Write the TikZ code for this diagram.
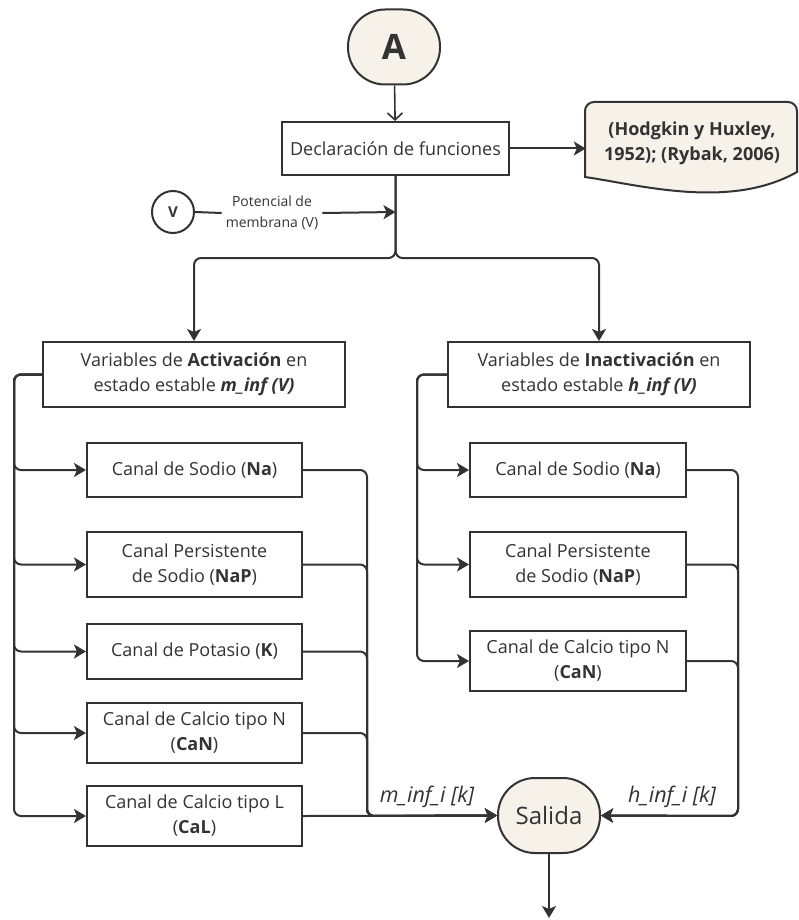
\documentclass[tikz,border=0pt]{standalone}
\usepackage{fontspec}
\setmainfont{Open Sans}
\usetikzlibrary{arrows.meta,calc}
\definecolor{ink}{HTML}{333333}
\definecolor{cream}{HTML}{F6F2EA}
\begin{document}
\begin{tikzpicture}[x=1pt,y=-1pt,
  every node/.style={text=ink, font=\fontsize{18}{25}\selectfont, align=center, inner sep=0pt},
  box/.style={draw=ink, line width=2pt, fill=white},
  pill/.style={draw=ink, line width=2pt, fill=cream, rounded corners=37pt},
  link/.style={draw=ink, line width=2pt, rounded corners=7pt},
  arr/.style={link, -{Stealth[length=12pt,width=14pt,inset=3pt]}},
  openarr/.style={draw=ink, line width=1.6pt, -{Straight Barb[length=7pt,width=15pt]}},
  lbl/.style={font=\fontsize{21.5}{24}\selectfont\itshape},
  ]
\useasboundingbox (0,0) rectangle (798,920);

% start connector and function block
\node[pill, minimum width=92pt, minimum height=75pt] (A) at (394,47) {\fontsize{35}{40}\selectfont\bfseries A};
\node[box, minimum width=227pt, minimum height=53pt] (decl) at (395.5,148.5) {Declaración de funciones};

% reference document shape
\path[fill=cream, draw=ink, line width=2pt]
  (585,177) [rounded corners=9pt] -- (585,102) -- (797,102) [sharp corners] -- (797,172)
  .. controls (730,210) and (640,185) .. (585,177) -- cycle;
\node[minimum width=212pt, minimum height=75pt] (ref) at (692,143)
  {\bfseries (Hodgkin y Huxley,\\\bfseries 1952); (Rybak, 2006)};

% membrane potential input
\node[draw=ink, line width=2pt, circle, minimum size=42pt] (Vc) at (173,212) {\fontsize{15}{16}\selectfont\bfseries V};
\node[font=\fontsize{14}{21}\selectfont, inner sep=4pt] (vlab) at (272,213) {Potencial de\\membrana (V)};
\coordinate (j) at (395.5,212);
\coordinate (split) at (395.5,258);

% variable blocks
\node[box, minimum width=302pt, minimum height=65pt] (act) at (194,374.5)
  {Variables de \textbf{Activación} en\\estado estable \textbf{\itshape m\_inf (V)}};
\node[box, minimum width=302pt, minimum height=65pt] (inact) at (599,374.5)
  {Variables de \textbf{Inactivación} en\\estado estable \textbf{\itshape h\_inf (V)}};

% activation channels
\node[box, minimum width=215pt, minimum height=54pt] (lna) at (194.5,470) {Canal de Sodio (\textbf{Na})};
\node[box, minimum width=215pt, minimum height=65pt] (lnap) at (194.5,564.5) {Canal Persistente\\de Sodio (\textbf{NaP})};
\node[box, minimum width=215pt, minimum height=55pt] (lk) at (194.5,651.5) {Canal de Potasio (\textbf{K})};
\node[box, minimum width=215pt, minimum height=60pt] (lcan) at (194.5,733) {Canal de Calcio tipo N\\(\textbf{CaN})};
\node[box, minimum width=215pt, minimum height=60pt] (lcal) at (194.5,816) {Canal de Calcio tipo L\\(\textbf{CaL})};

% inactivation channels
\node[box, minimum width=216pt, minimum height=54pt] (rna) at (578,470) {Canal de Sodio (\textbf{Na})};
\node[box, minimum width=216pt, minimum height=65pt] (rnap) at (578,564.5) {Canal Persistente\\de Sodio (\textbf{NaP})};
\node[box, minimum width=216pt, minimum height=60pt] (rcan) at (578,661) {Canal de Calcio tipo N\\(\textbf{CaN})};

% output
\node[pill, minimum width=102pt, minimum height=75pt] (sal) at (549,815.5) {\fontsize{24}{26}\selectfont Salida};
\coordinate (end) at (549,918);

% bus coordinates
\coordinate (ltrunk) at (14,374);
\coordinate (lout) at (367,816);
\coordinate (rtrunk) at (417,374);
\coordinate (rout) at (738,816);

% top connectors
\draw[openarr] (A) -- (decl);
\draw[arr] (decl.east) -- (decl.east -| ref.west);
\draw[link] (Vc.east) -- (vlab.west);
\draw[arr, rounded corners=0pt] (vlab.east) -- (j);
\draw[arr] (decl.south) -- (split) -| (act.north);
\draw[arr] (decl.south) -- (split) -| (inact.north);

% activation fan-out
\foreach \n in {lna,lnap,lk,lcan,lcal}
  \draw[arr] (act.west) -| (ltrunk |- \n.west) -- (\n.west);
% inactivation fan-out
\foreach \n in {rna,rnap,rcan}
  \draw[arr] (inact.west) -| (rtrunk |- \n.west) -- (\n.west);

% collection into the output
\foreach \n in {lna,lnap,lk,lcan}
  \draw[arr] (\n.east) -| (lout) -- (sal.west);
\draw[arr] (lcal.east) -- (sal.west);
\foreach \n in {rna,rnap,rcan}
  \draw[arr] (\n.east) -| (rout) -- (sal.east);
\draw[arr] (sal.south) -- (end);

% signal labels
\node[lbl] (ml) at (427,797) {m\_inf\_i [k]};
\node[lbl] (hl) at (672,797) {h\_inf\_i [k]};
\end{tikzpicture}
\end{document}
